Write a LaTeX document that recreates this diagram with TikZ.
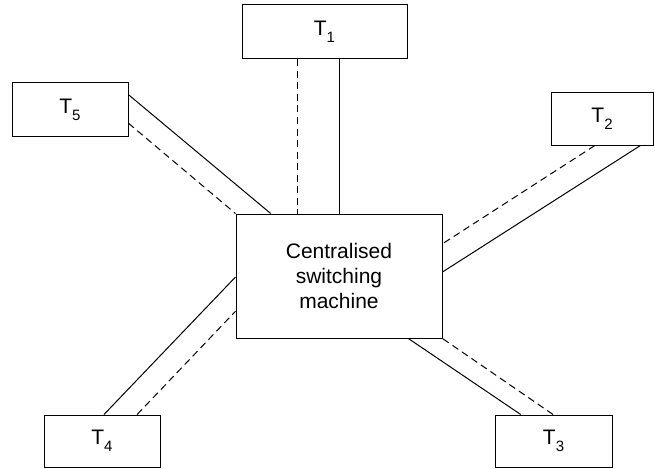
\documentclass[tikz,border=0pt]{standalone}
\usepackage{fontspec}
\setmainfont{Liberation Sans}
\usetikzlibrary{calc}
\newcommand{\term}[1]{T\raisebox{-7pt}{\fontsize{15}{15}\selectfont #1}}
\tikzset{
  termbox/.style={draw, line width=1pt, rectangle, inner sep=0pt,
    font=\fontsize{21}{25}\selectfont},
  solidlink/.style={line width=1pt},
  dashlink/.style={line width=1pt, dash pattern=on 7pt off 4.5pt},
}
\begin{document}
\begin{tikzpicture}[x=1pt,y=-1pt]
  \useasboundingbox (0,0) rectangle (655,468);

  % switching machine and terminals
  \node[termbox, minimum width=206pt, minimum height=124pt, align=center]
    (c) at (339,276) {Centralised\\switching\\machine};
  \node[termbox, minimum width=165pt, minimum height=54pt] (t1) at (324.5,32) {\term{1}};
  \node[termbox, minimum width=102pt, minimum height=52pt] (t2) at (602,119) {\term{2}};
  \node[termbox, minimum width=117pt, minimum height=52pt] (t3) at (553.5,441) {\term{3}};
  \node[termbox, minimum width=116pt, minimum height=52pt] (t4) at (102,441) {\term{4}};
  \node[termbox, minimum width=116pt, minimum height=53pt] (t5) at (70,109.5) {\term{5}};

  % T1 links
  \coordinate (t1d) at ($(t1.south west)!0.339!(t1.south east)$);
  \coordinate (t1s) at ($(t1.south west)!0.588!(t1.south east)$);
  \draw[dashlink] (t1d) -- (t1d |- c.north);
  \draw[solidlink] (t1s) -- (t1s |- c.north);

  % T5 links
  \draw[solidlink] ($(t5.north east)!0.226!(t5.south east)$)
    -- ($(c.north west)!0.17!(c.north east)$);
  \draw[dashlink] ($(t5.north east)!0.755!(t5.south east)$) -- (c.north west);

  % T2 links
  \draw[dashlink] ($(t2.south west)!0.431!(t2.south east)$)
    -- ($(c.north east)!0.242!(c.south east)$);
  \draw[solidlink] ($(t2.south west)!0.873!(t2.south east)$)
    -- ($(c.north east)!0.468!(c.south east)$);

  % T3 links
  \draw[solidlink] ($(t3.north west)!0.222!(t3.north east)$)
    -- ($(c.south west)!0.835!(c.south east)$);
  \draw[dashlink] ($(t3.north west)!0.496!(t3.north east)$) -- (c.south east);

  % T4 links
  \draw[solidlink] ($(t4.north west)!0.517!(t4.north east)$)
    -- ($(c.north west)!0.508!(c.south west)$);
  \draw[dashlink] ($(t4.north west)!0.80!(t4.north east)$)
    -- ($(c.north west)!0.782!(c.south west)$);
\end{tikzpicture}
\end{document}
